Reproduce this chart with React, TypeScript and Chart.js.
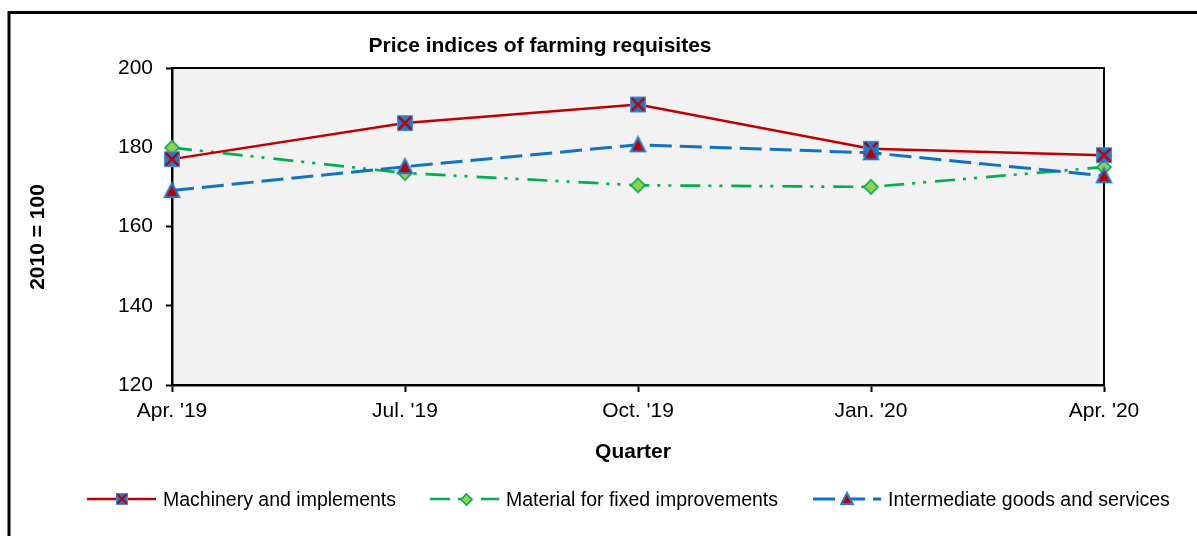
import React, { useEffect, useRef } from "react";
import { Chart, registerables } from "chart.js";

Chart.register(...registerables);

// ---- data ----
const quarters = ["Apr. '19", "Jul. '19", "Oct. '19", "Jan. '20", "Apr. '20"];
const machinery = [177.0, 186.1, 190.8, 179.6, 178.0];
const material = [179.9, 173.5, 170.4, 170.0, 175.0];
const intermediate = [169.1, 175.1, 180.6, 178.6, 172.8];
const yMin = 120;
const yMax = 200;
const yStep = 20;
const seriesNames = [
  "Machinery and implements",
  "Material for fixed improvements",
  "Intermediate goods and services",
];
const chartTitle = "Price indices of farming requisites";
const xTitle = "Quarter";
const yTitle = "2010 = 100";

// ---- styles ----
const FONT = "'Liberation Sans', Arial, Helvetica, sans-serif";
const RED = "#C00000";
const BLUE = "#0F72C6";
const MARKER_BLUE = "#1A7BD0";
const GREEN = "#00B050";
const LIGHTGREEN = "#92D050";
const GREEN_DASH = [20, 8, 3, 8, 3, 9];
const BLUE_DASH = [22, 8];

function makeMarker(kind: string, size: number): HTMLCanvasElement {
  const pad = 2;
  const dim = size + pad * 2;
  const c = document.createElement("canvas");
  c.width = dim;
  c.height = dim;
  const g = c.getContext("2d")!;
  const cx = dim / 2;
  const cy = dim / 2;
  const h = size / 2;
  if (kind === "squareX") {
    g.fillStyle = MARKER_BLUE;
    g.fillRect(cx - h, cy - h, size, size);
    g.strokeStyle = "#4A90D4";
    g.lineWidth = 1;
    g.strokeRect(cx - h + 0.5, cy - h + 0.5, size - 1, size - 1);
    g.strokeStyle = RED;
    g.lineWidth = Math.max(2, size * 0.16);
    const k = h * 0.8;
    g.beginPath();
    g.moveTo(cx - k, cy - k);
    g.lineTo(cx + k, cy + k);
    g.moveTo(cx + k, cy - k);
    g.lineTo(cx - k, cy + k);
    g.stroke();
  } else if (kind === "diamond") {
    g.beginPath();
    g.moveTo(cx, cy - h);
    g.lineTo(cx + h, cy);
    g.lineTo(cx, cy + h);
    g.lineTo(cx - h, cy);
    g.closePath();
    g.fillStyle = LIGHTGREEN;
    g.fill();
    g.strokeStyle = GREEN;
    g.lineWidth = 1.6;
    g.stroke();
  } else {
    g.beginPath();
    g.moveTo(cx, cy - h);
    g.lineTo(cx + h * 0.95, cy + h * 0.85);
    g.lineTo(cx - h * 0.95, cy + h * 0.85);
    g.closePath();
    g.fillStyle = RED;
    g.fill();
    g.strokeStyle = "#1A7BD0";
    g.lineWidth = 2;
    g.lineJoin = "miter";
    g.stroke();
  }
  return c;
}

export default function App() {
  const ref = useRef<HTMLCanvasElement | null>(null);

  useEffect(() => {
    const canvas = ref.current;
    if (!canvas) return;

    const mSquare = makeMarker("squareX", 16);
    const mDiamond = makeMarker("diamond", 14);
    const mTriangle = makeMarker("triangle", 15);
    const lSquare = makeMarker("squareX", 12);
    const lDiamond = makeMarker("diamond", 11);
    const lTriangle = makeMarker("triangle", 12);

    const legendItems = [
      { x0: 87, x1: 156, mx: 122, tx: 163, color: RED, width: 2.5, dash: [] as number[], marker: lSquare, text: seriesNames[0] },
      { x0: 430, x1: 499, mx: 466, tx: 506, color: GREEN, width: 2.5, dash: GREEN_DASH, marker: lDiamond, text: seriesNames[1] },
      { x0: 813, x1: 881, mx: 847, tx: 888, color: BLUE, width: 3, dash: BLUE_DASH, marker: lTriangle, text: seriesNames[2] },
    ];

    const decor = {
      id: "decor",
      beforeDraw(chart: any) {
        const { ctx, chartArea: a } = chart;
        ctx.save();
        ctx.fillStyle = "#FFFFFF";
        ctx.fillRect(0, 0, chart.width, chart.height);
        ctx.fillStyle = "#F2F2F2";
        ctx.fillRect(a.left, a.top, a.right - a.left, a.bottom - a.top);
        // outer frame
        ctx.strokeStyle = "#000";
        ctx.lineWidth = 3;
        ctx.strokeRect(9, 12.5, 1400, 1000);
        ctx.restore();
      },
      beforeDatasetsDraw(chart: any) {
        const { ctx, chartArea: a } = chart;
        ctx.save();
        ctx.strokeStyle = "#000";
        ctx.lineWidth = 2;
        ctx.beginPath();
        ctx.moveTo(a.left, a.top);
        ctx.lineTo(a.right, a.top);
        ctx.lineTo(a.right, a.bottom);
        ctx.stroke();
        ctx.restore();
      },
      afterDraw(chart: any) {
        const { ctx } = chart;
        ctx.save();
        ctx.fillStyle = "#000";
        // title
        ctx.font = `bold 21px ${FONT}`;
        ctx.textAlign = "center";
        ctx.textBaseline = "alphabetic";
        ctx.fillText(chartTitle, 540, 52);
        // x title
        ctx.fillText(xTitle, 633, 458);
        // y title
        ctx.save();
        ctx.translate(38, 237);
        ctx.rotate(-Math.PI / 2);
        ctx.textBaseline = "middle";
        ctx.fillText(yTitle, 0, 0);
        ctx.restore();
        // legend
        const ly = 499;
        for (const it of legendItems) {
          ctx.save();
          ctx.strokeStyle = it.color;
          ctx.lineWidth = it.width;
          ctx.setLineDash(it.dash);
          ctx.beginPath();
          ctx.moveTo(it.x0, ly);
          ctx.lineTo(it.x1, ly);
          ctx.stroke();
          ctx.restore();
          const m = it.marker;
          ctx.drawImage(m, Math.round(it.mx - m.width / 2), Math.round(ly - m.height / 2));
          ctx.font = `19.5px ${FONT}`;
          ctx.textAlign = "left";
          ctx.textBaseline = "alphabetic";
          ctx.fillStyle = "#000";
          ctx.fillText(it.text, it.tx, 506);
        }
        ctx.restore();
      },
    };

    const tickFont = { family: FONT, size: 21 };

    const chart = new Chart(canvas, {
      type: "line",
      data: {
        labels: quarters,
        datasets: [
          {
            label: seriesNames[0],
            data: machinery,
            borderColor: RED,
            backgroundColor: RED,
            borderWidth: 2.5,
            pointStyle: mSquare as any,
            pointRadius: 8,
            tension: 0,
            fill: false,
            clip: false as any,
            order: 2,
          },
          {
            label: seriesNames[1],
            data: material,
            borderColor: GREEN,
            backgroundColor: GREEN,
            borderWidth: 2.7,
            borderDash: GREEN_DASH,
            pointStyle: mDiamond as any,
            pointRadius: 8,
            tension: 0,
            fill: false,
            clip: false as any,
            order: 3,
          },
          {
            label: seriesNames[2],
            data: intermediate,
            borderColor: BLUE,
            backgroundColor: BLUE,
            borderWidth: 3,
            borderDash: BLUE_DASH,
            pointStyle: mTriangle as any,
            pointRadius: 8,
            tension: 0,
            fill: false,
            clip: false as any,
            order: 1,
          },
        ],
      },
      options: {
        responsive: false,
        devicePixelRatio: 1,
        animation: false,
        layout: { padding: { left: 0, top: 68, right: 93, bottom: 0 } },
        plugins: {
          legend: { display: false },
          title: { display: false },
          tooltip: { enabled: false },
        },
        scales: {
          x: {
            type: "category",
            offset: false,
            grid: {
              display: true,
              drawOnChartArea: false,
              drawTicks: true,
              tickLength: 7,
              tickColor: "#000",
              tickWidth: 2,
            },
            border: { display: true, color: "#000", width: 2.5 },
            ticks: {
              color: "#000",
              font: tickFont,
              padding: 7,
              maxRotation: 0,
              minRotation: 0,
              autoSkip: false,
            },
            afterFit: (s: any) => {
              s.height = 151;
            },
          },
          y: {
            min: yMin,
            max: yMax,
            grid: {
              display: true,
              drawOnChartArea: false,
              drawTicks: true,
              tickLength: 6,
              tickColor: "#000",
              tickWidth: 2,
            },
            border: { display: true, color: "#000", width: 2.5 },
            ticks: {
              stepSize: yStep,
              color: "#000",
              font: tickFont,
              padding: 13,
            },
            afterFit: (s: any) => {
              s.width = 172;
            },
          },
        },
      },
      plugins: [decor],
    });

    return () => {
      chart.destroy();
    };
  }, []);

  return (
    <canvas
      ref={ref}
      width={1197}
      height={536}
      style={{ position: "absolute", left: 0, top: 0, display: "block" }}
    />
  );
}
